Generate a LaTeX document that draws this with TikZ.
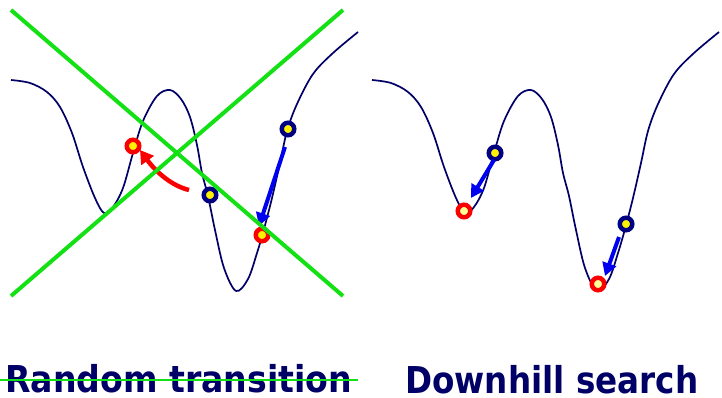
\documentclass[tikz,border=0pt]{standalone}
\usepackage{fontspec}
\usepackage{graphicx}
\setmainfont{DejaVu Sans}
\usetikzlibrary{arrows.meta}
\definecolor{navy}{RGB}{0,0,102}
\definecolor{ringnavy}{RGB}{0,0,128}
\definecolor{xgreen}{RGB}{20,225,20}
\definecolor{arrblue}{RGB}{0,0,240}
\definecolor{arrred}{RGB}{250,0,0}
\definecolor{paleyellow}{RGB}{255,255,150}
\tikzset{
  landscape/.style={draw=navy, line width=1.7pt, line join=round},
  olddot/.style={circle, draw=ringnavy, fill=yellow, line width=4.5pt, minimum size=12.5pt, inner sep=0pt},
  newdot/.style={circle, draw=arrred, fill=yellow, line width=4.5pt, minimum size=12.5pt, inner sep=0pt},
  newdotpale/.style={newdot, fill=paleyellow},
  movearrow/.style={draw=arrblue, line width=4pt, -{Triangle[length=13pt,width=14pt]}},
  jumparrow/.style={draw=arrred, line width=4.5pt, -{Triangle[length=13pt,width=15pt]}},
  crossline/.style={draw=xgreen, line width=4pt},
  caption/.style={font=\bfseries\fontsize{37}{40}\selectfont, text=navy, inner sep=0pt, anchor=base west}
}
\newcommand{\landcurve}{plot[smooth, tension=0.55] coordinates {
 (11,80) (30,83) (47,92) (60,107) (72,133) (83,167) (95,198) (104,213) (113,207)
 (123,188) (133,153) (143,121) (157,96) (170,90) (181,99) (190,117) (197,145) (202,173)
 (208,196) (215,230) (224,268) (236,291) (248,279) (257,253) (264,229) (272,198) (280,163)
 (287,131) (297,104) (313,74) (333,53) (358,32)}}
\newcommand{\captext}[2]{\raisebox{0pt}[\height][0pt]{\resizebox{#1}{\height}{#2}}}
\begin{document}
\begin{tikzpicture}[x=1pt,y=-1pt]
\useasboundingbox (0,0) rectangle (722,398);
% landscapes
\draw[landscape] \landcurve;
\draw[landscape, xshift=361pt] \landcurve;

% left panel dots
\node[newdot] (r1) at (133,146) {};
\node[olddot] (b1) at (210,195) {};
\node[olddot] (b2) at (288,129) {};
\node[newdot] (r2) at (262,235) {};

% left panel arrows
\coordinate (ja) at (189,190);
\coordinate (jb) at (140,150);
\draw[jumparrow] (ja) .. controls (172,186) and (156,172) .. (jb);
\coordinate (ma) at (285,147);
\coordinate (mb) at (259,226);
\draw[movearrow] (ma) -- (mb);

% right panel dots
\node[olddot] (b3) at (495,153) {};
\node[newdotpale] (r3) at (464,211) {};
\node[olddot] (b4) at (626,224) {};
\node[newdotpale] (r4) at (598,284) {};

% right panel arrows
\coordinate (mc) at (494,160);
\coordinate (md) at (471,198);
\draw[movearrow] (mc) -- (md);
\coordinate (me) at (619,237);
\coordinate (mf) at (605,276);
\draw[movearrow] (me) -- (mf);

% big cross
\coordinate (c1) at (11,10);
\coordinate (c2) at (343,296);
\coordinate (c3) at (11,296);
\coordinate (c4) at (343,10);
\draw[crossline] (c1) -- (c2);
\draw[crossline] (c3) -- (c4);

% captions
\node[caption] (t1) at (5,392) {\captext{347pt}{Random transition}};
\node[caption] (t2) at (405,393) {\captext{293pt}{Downhill search}};
\coordinate (s1) at (0,380);
\coordinate (s2) at (358,380);
\draw[draw=xgreen, line width=2pt] (s1) -- (s2);
\end{tikzpicture}
\end{document}
